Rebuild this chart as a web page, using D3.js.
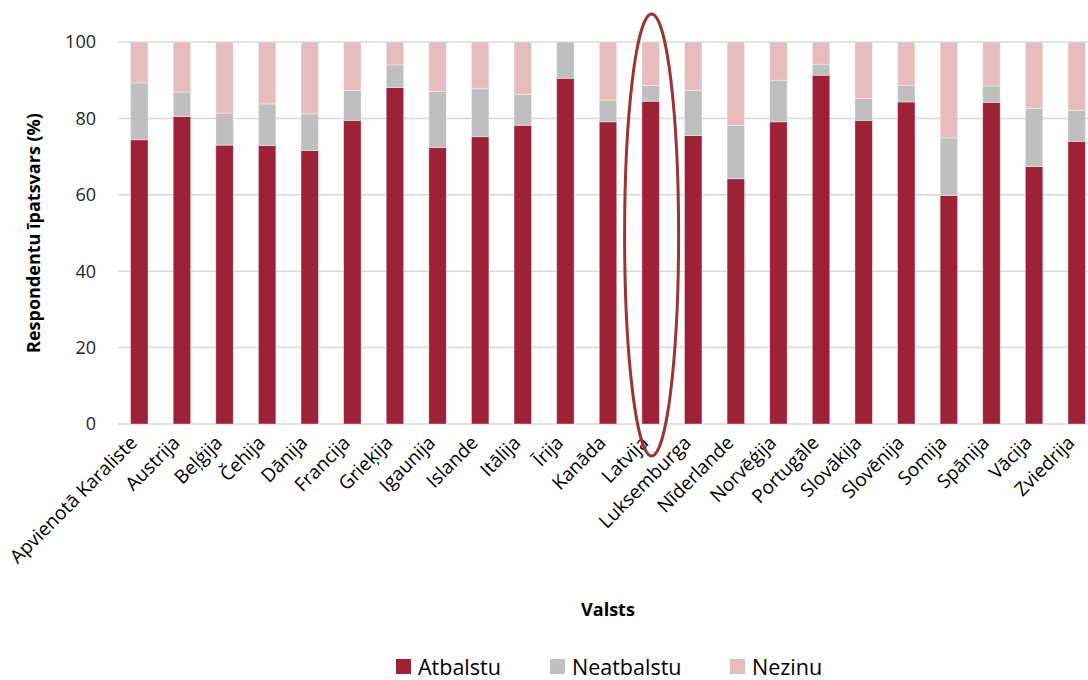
<!DOCTYPE html>
<html>
<head>
<meta charset="utf-8">
<script src="https://cdn.jsdelivr.net/npm/d3@7"></script>
<style>
  body { margin: 0; background: #fff; }
  svg { font-family: "Open Sans", "Noto Sans", sans-serif; }
</style>
</head>
<body>
<div id="chart"></div>
<script>
// data
var countries = ["Apvienotā Karaliste", "Austrija", "Beļģija", "Čehija", "Dānija", "Francija",
  "Grieķija", "Igaunija", "Islande", "Itālija", "Īrija", "Kanāda", "Latvija", "Luksemburga",
  "Nīderlande", "Norvēģija", "Portugāle", "Slovākija", "Slovēnija", "Somija", "Spānija",
  "Vācija", "Zviedrija"];
var atbalstu   = [74.4, 80.5, 73.0, 72.9, 71.6, 79.5, 88.1, 72.4, 75.2, 78.2, 90.5, 79.1, 84.5, 75.5, 64.2, 79.1, 91.3, 79.5, 84.3, 59.8, 84.2, 67.4, 74.0];
var neatbalstu = [14.9, 6.4, 8.4, 10.9, 9.6, 7.8, 5.9, 14.7, 12.7, 8.1, 9.5, 5.7, 4.1, 11.8, 14.0, 10.9, 2.9, 5.7, 4.4, 15.1, 4.3, 15.2, 8.1];
var nezinu     = [10.7, 13.1, 18.6, 16.2, 18.8, 12.7, 6.0, 12.9, 12.1, 13.7, 0, 15.2, 11.4, 12.7, 21.8, 10.0, 5.8, 14.8, 11.3, 25.1, 11.5, 17.4, 17.9];
var seriesNames = ["Atbalstu", "Neatbalstu", "Nezinu"];
var seriesColors = ["#9e2237", "#bfbfbf", "#e6bcbc"];
var yTicks = [0, 20, 40, 60, 80, 100];
var highlight = "Latvija";

var svgWidth = 1088;
var svgHeight = 680;
var margin = { top: 42, right: -10, bottom: 256, left: 118 };
var width = svgWidth - margin.left - margin.right;
var height = svgHeight - margin.top - margin.bottom;

var svg = d3.select("#chart")
  .append("svg")
  .attr("width", svgWidth)
  .attr("height", svgHeight);

var chartGroup = svg.append("g")
  .attr("transform", `translate(${margin.left}, ${margin.top})`);

var rows = countries.map(function(c, i) {
  return { country: c, Atbalstu: atbalstu[i], Neatbalstu: neatbalstu[i], Nezinu: nezinu[i] };
});
var stacked = d3.stack().keys(seriesNames)(rows);

var xScale = d3.scaleBand()
  .domain(countries)
  .range([0, width])
  .paddingInner(0.59)
  .paddingOuter(0.295);

var yScale = d3.scaleLinear()
  .domain([0, 100])
  .range([height, 0]);

// gridlines
chartGroup.append("g")
  .selectAll("line")
  .data(yTicks)
  .enter()
  .append("line")
  .attr("x1", 0)
  .attr("x2", width)
  .attr("y1", d => yScale(d))
  .attr("y2", d => yScale(d))
  .attr("stroke", "#d9d9d9")
  .attr("stroke-width", 1.5);

// y tick labels
chartGroup.append("g")
  .selectAll("text")
  .data(yTicks)
  .enter()
  .append("text")
  .attr("x", -22)
  .attr("y", d => yScale(d))
  .attr("dy", "0.35em")
  .attr("text-anchor", "end")
  .attr("font-size", "18px")
  .attr("fill", "#262626")
  .text(d => d);

// bars
chartGroup.append("g")
  .selectAll("g")
  .data(stacked)
  .enter()
  .append("g")
  .attr("fill", (d, i) => seriesColors[i])
  .selectAll("rect")
  .data(d => d)
  .enter()
  .append("rect")
  .attr("x", d => xScale(d.data.country))
  .attr("y", d => yScale(d[1]))
  .attr("width", xScale.bandwidth())
  .attr("height", d => yScale(d[0]) - yScale(d[1]))
  .attr("stroke", "#ffffff")
  .attr("stroke-opacity", 0.5)
  .attr("stroke-width", 0.75);

// x labels
chartGroup.append("g")
  .selectAll("text")
  .data(countries)
  .enter()
  .append("text")
  .attr("transform", d => `translate(${xScale(d) + xScale.bandwidth() / 2 - 1}, ${height + 20}) rotate(-45)`)
  .attr("text-anchor", "end")
  .attr("font-size", "19px")
  .attr("fill", "#000")
  .text(d => d);

// highlight ellipse
var hx = xScale(highlight) + xScale.bandwidth() / 2;
chartGroup.append("ellipse")
  .attr("cx", hx + 1)
  .attr("cy", yScale(100) + 193)
  .attr("rx", 27)
  .attr("ry", 221)
  .attr("fill", "none")
  .attr("stroke", "#9b3531")
  .attr("stroke-width", 3);

// axis titles
svg.append("text")
  .attr("transform", `translate(40, ${margin.top + height / 2}) rotate(-90)`)
  .attr("text-anchor", "middle")
  .attr("font-size", "18px")
  .attr("font-weight", "bold")
  .text("Respondentu īpatsvars (%)");

svg.append("text")
  .attr("x", 608)
  .attr("y", 616)
  .attr("text-anchor", "middle")
  .attr("font-size", "18px")
  .attr("font-weight", "bold")
  .text("Valsts");

// legend
var legendX = [396, 550, 730];
var legend = svg.append("g")
  .selectAll("g")
  .data(seriesNames)
  .enter()
  .append("g")
  .attr("transform", (d, i) => `translate(${legendX[i]}, 659)`);
legend.append("rect")
  .attr("width", 15)
  .attr("height", 15)
  .attr("fill", (d, i) => seriesColors[i]);
legend.append("text")
  .attr("x", 22)
  .attr("y", 16)
  .attr("font-size", "21.5px")
  .attr("fill", "#000")
  .text(d => d);
</script>
</body>
</html>
